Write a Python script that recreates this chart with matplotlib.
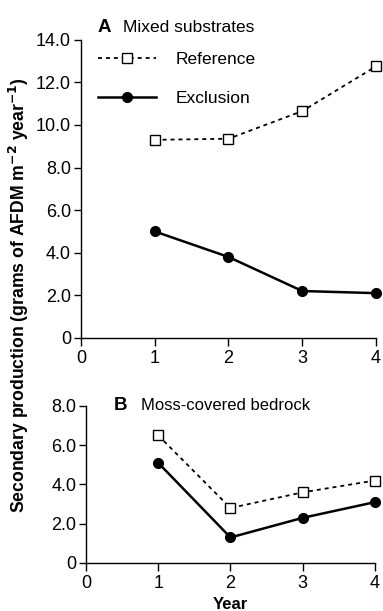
import numpy as np
import matplotlib
matplotlib.use("Agg")
import matplotlib.pyplot as plt

plt.rcParams['font.family'] = ['Liberation Sans', 'DejaVu Sans']

# -------------------------
# Data
# -------------------------
years = [1, 2, 3, 4]
mixed_reference = [9.3, 9.35, 10.65, 12.75]
mixed_exclusion = [5.0, 3.8, 2.2, 2.1]
moss_reference = [6.5, 2.8, 3.6, 4.2]
moss_exclusion = [5.1, 1.3, 2.3, 3.1]

a_yticks = [0, 2, 4, 6, 8, 10, 12, 14]
b_yticks = [0, 2, 4, 6, 8]
xticks = [0, 1, 2, 3, 4]


def ylab(v):
    return "0" if v == 0 else f"{v:.1f}"


def style_axes(ax, ymax, yticks):
    ax.set_xlim(0, 4)
    ax.set_ylim(0, ymax)
    ax.set_xticks(xticks)
    ax.set_yticks(yticks)
    ax.set_yticklabels([ylab(v) for v in yticks])
    ax.spines["top"].set_visible(False)
    ax.spines["right"].set_visible(False)
    ax.spines["left"].set_linewidth(1.0)
    ax.spines["bottom"].set_linewidth(1.0)
    ax.tick_params(axis="y", labelsize=13, length=5, width=1.0, pad=2)
    ax.tick_params(axis="x", labelsize=13, length=6, width=1.0, pad=3)


def draw(ax, ref, exc):
    ax.plot(years, ref, color="black", linestyle=(0, (2.2, 2.2)), lw=1.3,
            marker="s", ms=6.5, mfc="white", mec="black", mew=1.0,
            label="Reference", clip_on=False, zorder=3)
    ax.plot(years, exc, color="black", linestyle="-", lw=1.8,
            marker="o", ms=7, mfc="black", mec="black",
            label="Exclusion", clip_on=False, zorder=3)


fig = plt.figure(figsize=(3.83, 6.11), dpi=100)

# -------------------------
# Panel A
# -------------------------
ax1 = fig.add_axes([0.211, 0.447, 0.771, 0.488])
draw(ax1, mixed_reference, mixed_exclusion)
style_axes(ax1, 14, a_yticks)
ax1.text(0.058, 1.027, "A", transform=ax1.transAxes, fontsize=13.5,
         fontweight="bold", va="baseline")
ax1.text(0.142, 1.027, "Mixed substrates", transform=ax1.transAxes,
         fontsize=12.5, va="baseline")
leg = ax1.legend(loc="upper left", bbox_to_anchor=(0.059, 0.958), frameon=False,
                 fontsize=12.5, handlelength=3.3, handletextpad=1.15,
                 labelspacing=1.37, borderaxespad=0, borderpad=0)

# -------------------------
# Panel B
# -------------------------
ax2 = fig.add_axes([0.2245, 0.0786, 0.7545, 0.257])
draw(ax2, moss_reference, moss_exclusion)
style_axes(ax2, 8, b_yticks)
ax2.text(0.095, 1.0, "B", transform=ax2.transAxes, fontsize=13.5,
         fontweight="bold", va="center")
ax2.text(0.19, 1.0, "Moss-covered bedrock", transform=ax2.transAxes,
         fontsize=12, va="center")
ax2.set_xlabel("Year", fontsize=12, fontweight="bold", labelpad=3)

fig.text(0.05, 0.517,
         "Secondary production (grams of AFDM m$^{\\mathbf{-2}}$ year$^{\\mathbf{-1}}$)",
         rotation=90, ha="center", va="center", fontsize=12.7, fontweight="bold")

plt.savefig("out.png", dpi=100)
